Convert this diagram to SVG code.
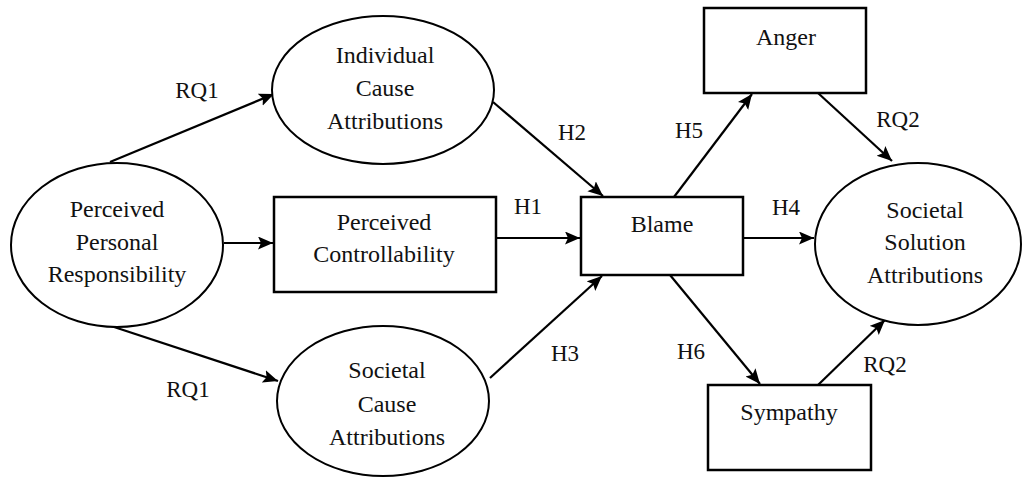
<svg xmlns="http://www.w3.org/2000/svg" width="1023" height="478" viewBox="0 0 1023 478">
<defs>
<marker id="arr" markerUnits="userSpaceOnUse" markerWidth="16" markerHeight="14" refX="15" refY="6.5" orient="auto">
<path d="M0,0 L15,6.5 L0,13 L3,6.5 z" fill="#000"/>
</marker>
<style>
.n{fill:#fff;stroke:#000;stroke-width:2}
.r{fill:#fff;stroke:#000;stroke-width:2.5}
text{font-family:"Times New Roman","Liberation Serif","DejaVu Serif",serif;fill:#111;text-anchor:middle}
.t{font-size:24px}
.l{font-size:23px}
.c{stroke:#000;stroke-width:2.2;fill:none;marker-end:url(#arr)}
</style>
</defs>
<rect width="1023" height="478" fill="#fff"/>
<g id="connectors">
<line class="c" x1="110" y1="162" x2="274" y2="94"/>
<line class="c" x1="108" y1="325" x2="278" y2="381"/>
<line class="c" x1="224" y1="243" x2="273" y2="243"/>
<line class="c" x1="493" y1="102" x2="603" y2="196"/>
<line class="c" x1="496" y1="238" x2="580" y2="238"/>
<line class="c" x1="490" y1="378" x2="602" y2="276"/>
<line class="c" x1="674" y1="197" x2="752" y2="94"/>
<line class="c" x1="743" y1="238" x2="814" y2="238"/>
<line class="c" x1="670" y1="275" x2="760" y2="384"/>
<line class="c" x1="818" y1="93" x2="892" y2="161"/>
<line class="c" x1="818" y1="385" x2="885" y2="320"/>
<text class="l" x="197" y="98">RQ1</text>
<text class="l" x="188" y="397">RQ1</text>
<text class="l" x="572" y="140">H2</text>
<text class="l" x="528" y="214">H1</text>
<text class="l" x="565" y="361">H3</text>
<text class="l" x="689" y="138">H5</text>
<text class="l" x="786" y="215">H4</text>
<text class="l" x="691" y="359">H6</text>
<text class="l" x="898" y="127">RQ2</text>
<text class="l" x="885" y="372">RQ2</text>
</g>
<g id="ppr">
<ellipse class="n" cx="117" cy="245" rx="106" ry="82"/>
<text class="t" x="117" y="217">Perceived</text>
<text class="t" x="117" y="250">Personal</text>
<text class="t" x="117" y="282">Responsibility</text>
</g>
<g id="ica">
<ellipse class="n" cx="383" cy="90" rx="111" ry="74"/>
<text class="t" x="385" y="63">Individual</text>
<text class="t" x="385" y="96">Cause</text>
<text class="t" x="385" y="129">Attributions</text>
</g>
<g id="pc">
<rect class="r" x="274" y="197" width="222" height="95"/>
<text class="t" x="384" y="230">Perceived</text>
<text class="t" x="384" y="262">Controllability</text>
</g>
<g id="sca">
<ellipse class="n" cx="383" cy="401" rx="106" ry="75"/>
<text class="t" x="387" y="378">Societal</text>
<text class="t" x="387" y="412">Cause</text>
<text class="t" x="387" y="445">Attributions</text>
</g>
<g id="blame">
<rect class="r" x="581" y="197" width="162" height="78"/>
<text class="t" x="662" y="232">Blame</text>
</g>
<g id="anger">
<rect class="r" x="704" y="8" width="162" height="85"/>
<text class="t" x="786" y="45">Anger</text>
</g>
<g id="sympathy">
<rect class="r" x="708" y="385" width="163" height="85"/>
<text class="t" x="789" y="420">Sympathy</text>
</g>
<g id="ssa">
<ellipse class="n" cx="918" cy="244" rx="103" ry="81"/>
<text class="t" x="925" y="218">Societal</text>
<text class="t" x="925" y="250">Solution</text>
<text class="t" x="925" y="283">Attributions</text>
</g>
</svg>
